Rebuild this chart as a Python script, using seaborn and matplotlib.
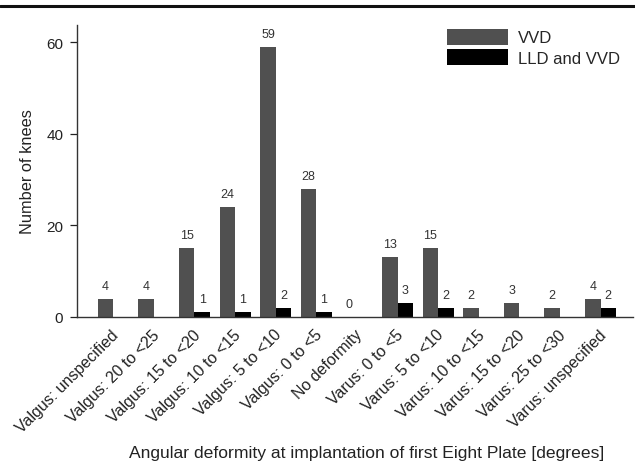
import matplotlib
matplotlib.use("Agg")
import matplotlib.pyplot as plt
import matplotlib.transforms as mtransforms
import seaborn as sns
import pandas as pd
from matplotlib.patches import Patch
from matplotlib.lines import Line2D

categories = ["Valgus: unspecified", "Valgus: 20 to <25", "Valgus: 15 to <20",
              "Valgus: 10 to <15", "Valgus: 5 to <10", "Valgus: 0 to <5",
              "No deformity", "Varus: 0 to <5", "Varus: 5 to <10",
              "Varus: 10 to <15", "Varus: 15 to <20", "Varus: 25 to <30",
              "Varus: unspecified"]
vvd = [4, 4, 15, 24, 59, 28, 0, 13, 15, 2, 3, 2, 4]
lld_vvd = [0, 0, 1, 1, 2, 1, 0, 3, 2, 0, 0, 0, 2]
series = ["VVD", "LLD and VVD"]
colors = ["#505050", "#000000"]

df = pd.DataFrame({
    "cat": categories * 2,
    "val": vvd + lld_vvd,
    "series": [series[0]] * len(categories) + [series[1]] * len(categories),
})

sns.set_style("white")
plt.rcParams["font.family"] = ["Liberation Sans", "DejaVu Sans"]

fig = plt.figure(figsize=(6.35, 4.64), dpi=100)
ax = fig.add_axes([0.1215, 0.315, 0.876, 0.629])
sns.barplot(data=df, x="cat", y="val", hue="series", palette=colors,
            width=0.76, ax=ax, legend=False, saturation=1, linewidth=0)

for i, cont in enumerate(ax.containers):
    labels = []
    for v in cont.datavalues:
        if i == 0 or v > 0:
            labels.append(f"{int(v)}")
        else:
            labels.append("")
    ax.bar_label(cont, labels=labels, padding=5, fontsize=9, color="#333333")

ax.set_xlim(-0.89, 12.81)
ax.set_ylim(0, 63.8)
ax.set_yticks([0, 20, 40, 60])
ax.tick_params(axis="y", which="both", left=True, length=5, width=0.9,
               direction="out", labelsize=11, colors="#222222", pad=5)
ax.tick_params(axis="x", length=0, labelsize=11.5, pad=3)
ax.set_xticks(range(len(categories)))
ax.set_xticklabels(categories, rotation=45, ha="right", rotation_mode="anchor",
                   color="#222222")
offset = mtransforms.ScaledTranslation(-1.5 / 72, -4 / 72, fig.dpi_scale_trans)
for lab in ax.get_xticklabels():
    lab.set_transform(lab.get_transform() + offset)
for s in ["top", "right"]:
    ax.spines[s].set_visible(False)
for s in ["left", "bottom"]:
    ax.spines[s].set_color("#333333")
    ax.spines[s].set_linewidth(1.0)

ax.set_ylabel("Number of knees", fontsize=11.8, color="#222222", labelpad=8)
ax.set_xlabel("")
fig.text(0.578, 0.006, "Angular deformity at implantation of first Eight Plate [degrees]",
         ha="center", va="bottom", fontsize=12.6, color="#222222")

handles = [Patch(facecolor=c, edgecolor="none") for c in colors]
ax.legend(handles, series, loc="upper left", bbox_to_anchor=(0.653, 1.01),
          frameon=False, fontsize=12, handlelength=3.66, handleheight=1.12,
          handletextpad=0.6, labelspacing=0.2, borderaxespad=0.0)

fig.add_artist(Line2D([0, 1], [0.985, 0.985], transform=fig.transFigure,
                      color="#111111", linewidth=2.2))

fig.savefig("out.png", dpi=100)
